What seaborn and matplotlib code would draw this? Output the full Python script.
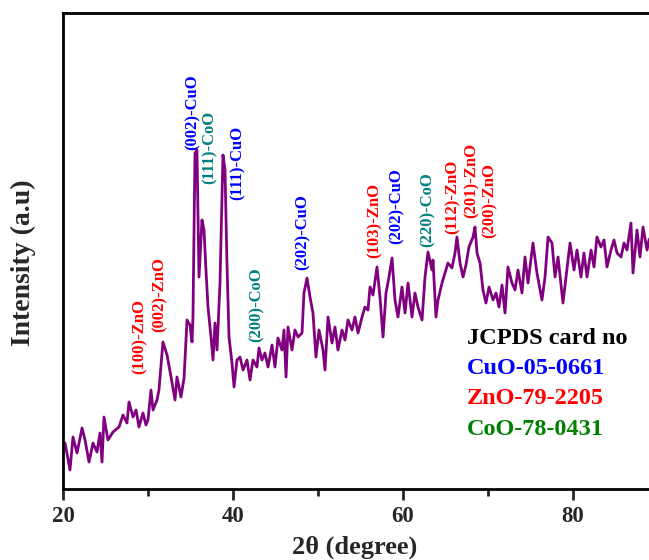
import matplotlib
matplotlib.use("Agg")
import matplotlib.pyplot as plt
import seaborn as sns
import pandas as pd
from matplotlib.ticker import MultipleLocator

two_theta = [20.24, 20.82, 21.18, 21.65, 22.24, 22.59, 23.06, 23.53, 24.00, 24.35, 24.59, 24.82, 25.29, 25.88,
             26.59, 27.06, 27.53, 27.76, 28.24, 28.59, 28.94, 29.41, 29.76, 30.00, 30.35, 30.59, 31.06, 31.29,
             31.76, 32.24, 32.71, 33.18, 33.41, 33.88, 34.24, 34.59, 34.94, 35.18, 35.29, 35.53, 35.76, 36.00,
             36.35, 36.59, 36.82, 37.06, 37.41, 37.65, 37.88, 38.12, 38.47, 38.82, 39.06, 39.29, 39.53, 39.88,
             40.12, 40.47, 40.82, 41.18, 41.65, 42.00, 42.35, 42.82, 43.06, 43.41, 43.76, 44.12, 44.59, 44.94,
             45.29, 45.76, 46.00, 46.24, 46.47, 46.94, 47.29, 47.65, 48.12, 48.35, 48.71, 49.06, 49.41, 49.76,
             50.12, 50.59, 50.82, 51.18, 51.65, 52.00, 52.35, 52.82, 53.18, 53.53, 54.00, 54.35, 54.71, 55.18,
             55.53, 55.88, 56.12, 56.47, 56.94, 57.29, 57.65, 58.00, 58.35, 58.71, 59.06, 59.41, 59.88, 60.24,
             60.59, 61.06, 61.41, 61.76, 62.24, 62.59, 62.94, 63.41, 63.53, 63.88, 64.12, 64.59, 64.94, 65.29,
             65.76, 66.12, 66.35, 66.71, 67.06, 67.41, 67.76, 68.24, 68.47, 68.71, 69.06, 69.41, 69.76, 70.12,
             70.59, 70.94, 71.29, 71.65, 72.00, 72.35, 72.82, 73.18, 73.53, 74.00, 74.35, 74.71, 75.29, 75.76,
             76.35, 76.71, 77.06, 77.53, 77.88, 78.24, 78.82, 79.18, 79.65, 80.12, 80.47, 80.94, 81.29, 81.65,
             82.12, 82.47, 82.82, 83.29, 83.65, 84.00, 84.47, 84.82, 85.18, 85.65, 86.00, 86.35, 86.82, 87.06,
             87.53, 87.88, 88.24, 88.71, 88.94, 89.29, 89.76]
intensity = [46, 19, 52, 36, 61, 49, 27, 46, 37, 56, 27, 72, 49, 57,
             62, 74, 66, 87, 72, 79, 62, 76, 64, 69, 99, 79, 89, 99,
             147, 134, 112, 89, 112, 92, 111, 169, 164, 147, 172, 336, 339, 212,
             269, 259, 219, 182, 152, 129, 166, 139, 206, 334, 319, 226, 152, 126,
             102, 129, 132, 119, 129, 109, 129, 122, 141, 129, 136, 122, 144, 122,
             151, 139, 159, 112, 162, 139, 159, 152, 156, 196, 211, 192, 176, 132,
             159, 139, 119, 172, 146, 162, 139, 159, 149, 169, 159, 172, 156, 172,
             182, 179, 202, 194, 222, 192, 152, 196, 212, 231, 189, 172, 202, 176,
             206, 172, 196, 182, 169, 212, 237, 219, 229, 172, 189, 206, 216, 226,
             221, 236, 252, 226, 212, 224, 242, 252, 262, 236, 226, 199, 186, 202,
             189, 196, 182, 204, 176, 222, 206, 199, 219, 196, 232, 206, 246, 216,
             189, 212, 252, 246, 212, 232, 186, 212, 246, 219, 239, 212, 236, 212,
             239, 222, 252, 242, 249, 222, 239, 249, 236, 232, 246, 239, 266, 216,
             259, 232, 262, 239, 249, 254, 244]

peak_labels = ["(100)-ZnO", "(002)-ZnO", "(002)-CuO", "(111)-CoO", "(111)-CuO", "(200)-CoO", "(202)-CuO",
               "(103)-ZnO", "(202)-CuO", "(220)-CoO", "(112)-ZnO", "(201)-ZnO", "(200)-ZnO"]
label_x = [29.06, 31.4, 35.3, 37.3, 40.5, 42.8, 48.2, 56.7, 59.3, 62.9, 65.8, 68.1, 70.2]
label_y = [152, 194, 377, 342, 326, 184, 257, 269, 283, 279, 292, 309, 289]
label_colors = ["#ff0000", "#ff0000", "#0000ff", "#008080", "#0000ff", "#008080", "#0000ff",
                "#ff0000", "#0000ff", "#008080", "#ff0000", "#ff0000", "#ff0000"]

card_texts = ["JCPDS card no", "CuO-05-0661", "ZnO-79-2205", "CoO-78-0431"]
card_colors = ["#000000", "#0000ff", "#ff0000", "#008000"]

sns.set_style("white")
plt.rcParams['font.family'] = ['Liberation Serif', 'DejaVu Serif']
plt.rcParams['font.weight'] = 'bold'

df = pd.DataFrame({"2theta": two_theta, "Intensity": intensity})

fig = plt.figure(figsize=(6.49, 5.60), dpi=100)
ax = fig.add_axes([63 / 649, 71 / 560, 595 / 649, 476 / 560])
sns.lineplot(data=df, x="2theta", y="Intensity", ax=ax, color="#800080", linewidth=2.0)

ax.set_xlim(20, 90)
ax.set_ylim(0, 476)
ax.set_yticks([])
ax.xaxis.set_major_locator(MultipleLocator(20))
ax.xaxis.set_minor_locator(MultipleLocator(10))
ax.tick_params(axis="x", which="major", direction="out", length=8, width=2,
               labelsize=16.5, pad=4, bottom=True)
ax.tick_params(axis="x", which="minor", direction="out", length=5, width=2, bottom=True)
for lab in ax.get_xticklabels():
    lab.set_fontweight("bold")
for sp in ax.spines.values():
    sp.set_linewidth(2)
    sp.set_color("black")

ax.set_xlabel("2θ (degree)", fontsize=19, fontweight="bold")
ax.xaxis.set_label_coords(0.49, -0.097)
ax.set_ylabel("Intensity (a.u)", fontsize=20, fontweight="bold")
ax.yaxis.set_label_coords(-0.045, 0.475)

for t, x, y, c in zip(peak_labels, label_x, label_y, label_colors):
    ax.text(x, y, t, rotation=90, color=c, fontsize=12, fontweight="bold",
            ha="center", va="center")

for i, (t, c) in enumerate(zip(card_texts, card_colors)):
    fig.text(467 / 649, 1 - (338 + 30.5 * i) / 560, t, color=c, fontsize=17.5,
             fontweight="bold", ha="left", va="center")

fig.savefig("out.png", dpi=100)
